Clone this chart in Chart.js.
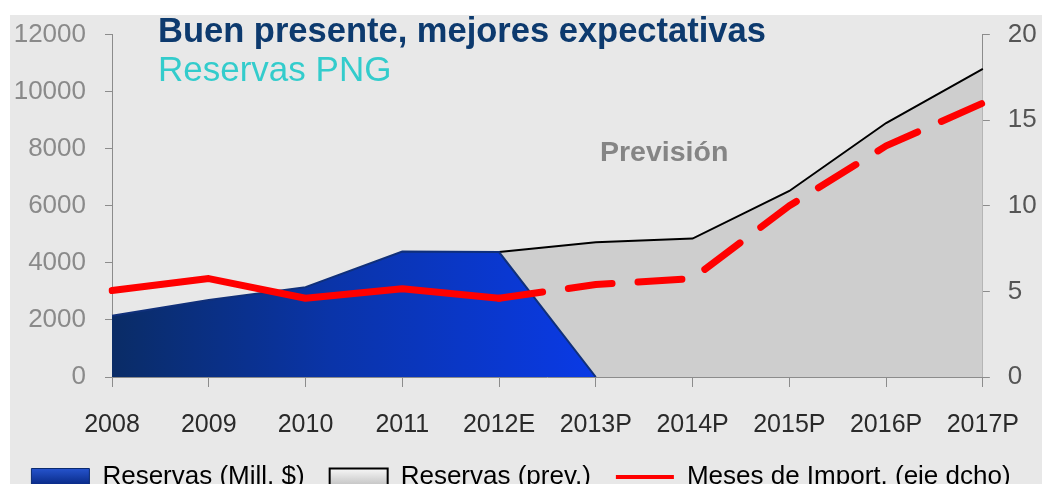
<!DOCTYPE html>
<html>
<head>
<meta charset="utf-8">
<script src="https://cdn.jsdelivr.net/npm/chart.js@4"></script>
<style>
  html, body { margin: 0; padding: 0; background: #fff; }
  body { width: 1042px; height: 484px; overflow: hidden; position: relative; }
  #chart { position: absolute; left: 0; top: 0; }
  .txt { position: absolute; white-space: nowrap; line-height: 1; font-family: "Liberation Sans", Arial, sans-serif; }
  #titulo { left: 158px; top: 13px; font-size: 34.5px; font-weight: bold; color: #0d3a6e; }
  #subtitulo { left: 158px; top: 51px; font-size: 35px; color: #33cccc; }
  #prevision { left: 600px; top: 137px; font-size: 28.5px; font-weight: bold; color: #858585; }
</style>
</head>
<body>
<canvas id="chart" width="1042" height="500"></canvas>
<div class="txt" id="titulo">Buen presente, mejores expectativas</div>
<div class="txt" id="subtitulo">Reservas PNG</div>
<div class="txt" id="prevision">Previsión</div>
<script>
// datos
const years        = ['2008', '2009', '2010', '2011', '2012E', '2013P', '2014P', '2015P', '2016P', '2017P'];
const reservas     = [2150, 2700, 3150, 4400, 4380, 0, null, null, null, null];
const reservasPrev = [null, null, null, null, 4380, 4720, 4850, 6520, 8900, 10800];
const mesesImport  = [5.05, 5.75, 4.6, 5.15, 4.6, 5.4, 5.75, 10.0, 13.5, 16.0];
const leftTicks    = [0, 2000, 4000, 6000, 8000, 10000, 12000];
const rightTicks   = [0, 5, 10, 15, 20];

const ctx = document.getElementById('chart').getContext('2d');

// fondo gris del grafico
const fondo = {
  id: 'fondo',
  beforeDraw(chart) {
    const c = chart.ctx;
    c.save();
    c.fillStyle = '#e8e8e8';
    c.fillRect(10, 15, chart.width - 10, chart.height - 15);
    c.restore();
  }
};

function blueFill(context) {
  const area = context.chart.chartArea;
  if (!area) return '#0a36c8';
  const xs = context.chart.scales.x;
  const g = context.chart.ctx.createLinearGradient(area.left, 0, xs.getPixelForValue(5), 0);
  g.addColorStop(0, '#0a2c66');
  g.addColorStop(0.45, '#0a34a8');
  g.addColorStop(1, '#0a3ae6');
  return g;
}

const legendBlue = ctx.createLinearGradient(0, 466, 0, 484);
legendBlue.addColorStop(0, '#2a5ad8');
legendBlue.addColorStop(1, '#0a2c8a');
const legendGray = ctx.createLinearGradient(0, 466, 0, 484);
legendGray.addColorStop(0, '#ffffff');
legendGray.addColorStop(1, '#c8c8c8');

const chart = new Chart(ctx, {
  type: 'line',
  data: {
    labels: years,
    datasets: [
      {
        label: 'Reservas (Mill. $)',
        data: reservas,
        yAxisID: 'y',
        order: 1,
        fill: 'origin',
        backgroundColor: blueFill,
        borderColor: '#10307a',
        borderWidth: 2,
        pointRadius: 0,
        tension: 0
      },
      {
        label: 'Reservas (prev.)',
        data: reservasPrev,
        yAxisID: 'y',
        order: 2,
        fill: 'origin',
        backgroundColor: '#cecece',
        borderColor: '#000000',
        borderWidth: 2,
        pointRadius: 0,
        tension: 0
      },
      {
        label: 'Meses de Import. (eje dcho)',
        data: mesesImport,
        yAxisID: 'y1',
        order: 0,
        fill: false,
        borderColor: '#ff0000',
        borderWidth: 7,
        borderCapStyle: 'round',
        borderJoinStyle: 'round',
        segment: {
          borderDash: c => c.p0DataIndex >= 4 ? [44, 26] : undefined
        },
        pointRadius: 0,
        tension: 0
      }
    ]
  },
  options: {
    responsive: false,
    animation: false,
    devicePixelRatio: 1,
    layout: { padding: { top: 33, left: 0, right: 0, bottom: 0 } },
    plugins: {
      title: { display: false },
      tooltip: { enabled: false },
      legend: {
        position: 'bottom',
        align: 'center',
        labels: {
          font: { family: '"Liberation Sans", Arial, sans-serif', size: 26 },
          color: '#222222',
          padding: 25,
          usePointStyle: true,
          pointStyleWidth: 58,
          boxHeight: 17,
          generateLabels() {
            return [
              { text: 'Reservas (Mill. $)', pointStyle: 'rect', fillStyle: legendBlue, strokeStyle: '#0a2a70', lineWidth: 1, datasetIndex: 0 },
              { text: 'Reservas (prev.)', pointStyle: 'rect', fillStyle: legendGray, strokeStyle: '#000000', lineWidth: 2, datasetIndex: 1 },
              { text: 'Meses de Import. (eje dcho)', pointStyle: 'line', fillStyle: '#ff0000', strokeStyle: '#ff0000', lineWidth: 4, datasetIndex: 2 }
            ];
          }
        }
      }
    },
    scales: {
      x: {
        offset: false,
        grid: { display: true, drawOnChartArea: false, tickLength: 10, color: '#8c8c8c' },
        border: { display: true, color: '#8c8c8c', width: 1 },
        ticks: {
          padding: 23,
          maxRotation: 0,
          autoSkip: false,
          color: '#2a2a2a',
          font: { family: '"Liberation Sans", Arial, sans-serif', size: 25 }
        },
        afterFit(scale) {
          const lh = scale.chart.legend ? scale.chart.legend.height : 81;
          scale.height = scale.chart.height - lh - 377;
        }
      },
      y: {
        position: 'left',
        min: 0,
        max: 12000,
        afterBuildTicks(scale) { scale.ticks = leftTicks.map(v => ({ value: v })); },
        grid: { display: true, drawOnChartArea: false, tickLength: 7, color: '#8c8c8c' },
        border: { display: true, color: '#8c8c8c', width: 1 },
        ticks: {
          padding: 19,
          color: '#8a8a8a',
          font: { family: '"Liberation Sans", Arial, sans-serif', size: 26 },
          callback: v => String(v)
        },
        afterFit(scale) { scale.width = 112; }
      },
      y1: {
        position: 'right',
        min: 0,
        max: 20,
        afterBuildTicks(scale) { scale.ticks = rightTicks.map(v => ({ value: v })); },
        grid: { display: true, drawOnChartArea: false, tickLength: 7, color: '#8c8c8c' },
        border: { display: true, color: '#8c8c8c', width: 1 },
        ticks: {
          padding: 18,
          color: '#555555',
          font: { family: '"Liberation Sans", Arial, sans-serif', size: 26 },
          callback: v => String(v)
        },
        afterFit(scale) { scale.width = 54; }
      }
    }
  },
  plugins: [fondo]
});
</script>
</body>
</html>
